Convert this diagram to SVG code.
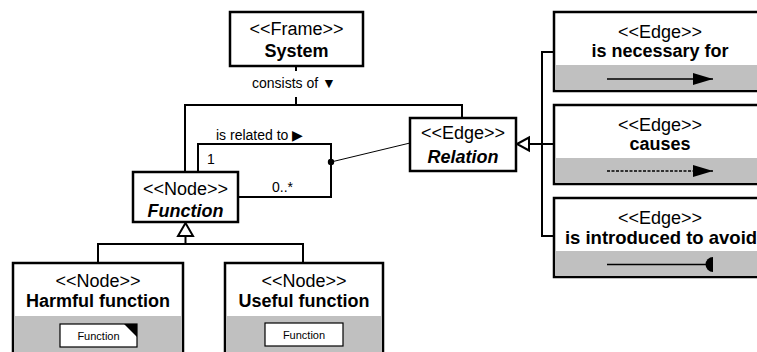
<svg xmlns="http://www.w3.org/2000/svg" width="757" height="352" viewBox="0 0 757 352">
  <style>
    text { font-family: "Liberation Sans", Arial, sans-serif; fill: #000; }
    .st { font-size: 18px; text-anchor: middle; }
    .nm { font-size: 18px; font-weight: bold; text-anchor: middle; }
    .it { font-style: italic; }
    .lbl { font-size: 14px; }
    .small { font-size: 11px; text-anchor: middle; }
    .box { fill: #fff; stroke: #000; stroke-width: 2.5; }
    .band { fill: #c0c0c0; stroke: none; }
    .conn { fill: none; stroke: #000; stroke-width: 2; }
    .thin { fill: none; stroke: #000; stroke-width: 1; }
    .gen { fill: #fff; stroke: #000; stroke-width: 2; }
  </style>
  <defs>
    <marker id="fillArrow" viewBox="0 0 20 12" refX="20" refY="6" markerWidth="20" markerHeight="12" markerUnits="userSpaceOnUse" orient="auto">
      <path d="M0,0 L20,6 L0,12 Z" fill="#000"/>
    </marker>
  </defs>

  <!-- connectors -->
  <g id="connectors">
    <!-- System consists of Function and Relation -->
    <path class="conn" d="M296,66 V71 M296,97 V105 M185,172 V105 H462 V118"/>
    <text class="lbl" x="294" y="88" text-anchor="middle">consists of ▼</text>
    <!-- Function is related to Relation (association loop) -->
    <path class="conn" d="M198,172 V144 H331 V197 H238"/>
    <text class="lbl" x="216" y="140">is related to ▶</text>
    <text class="lbl" x="207" y="164">1</text>
    <text class="lbl" x="272" y="192">0..*</text>
    <circle cx="331" cy="162" r="3.2" fill="#000"/>
    <line class="thin" x1="331" y1="162" x2="410" y2="143"/>
    <!-- Function specialisations -->
    <path class="conn" d="M185.5,236 V244 M98,263 V244 H303 V263"/>
    <path class="gen" d="M185.5,223 L193,236 L178,236 Z"/>
    <!-- Relation specialisations -->
    <path class="conn" d="M554,52 H542 V236 H554 M529,144 H554"/>
    <path class="gen" d="M517,144 L529,137.5 L529,150.5 Z"/>
  </g>

  <g id="system">
    <rect class="box" x="230" y="12" width="133" height="54"/>
    <text class="st" x="296.5" y="35">&lt;&lt;Frame&gt;&gt;</text>
    <text class="nm" x="296.5" y="57">System</text>
  </g>

  <g id="function">
    <rect class="box" x="133" y="172" width="105" height="50"/>
    <text class="st" x="185.5" y="195">&lt;&lt;Node&gt;&gt;</text>
    <text class="nm it" x="185.5" y="217">Function</text>
  </g>

  <g id="relation">
    <rect class="box" x="410" y="118" width="106" height="53"/>
    <text class="st" x="463" y="139">&lt;&lt;Edge&gt;&gt;</text>
    <text class="nm it" x="463" y="163">Relation</text>
  </g>

  <g id="harmful-function">
    <rect class="box" x="13" y="263" width="170" height="100"/>
    <rect class="band" x="14.25" y="316" width="167.5" height="46"/>
    <text class="st" x="98" y="287">&lt;&lt;Node&gt;&gt;</text>
    <text class="nm" x="98" y="307">Harmful function</text>
    <rect x="60" y="324" width="77" height="23" fill="#fff" stroke="#000" stroke-width="1.2"/>
    <path d="M124,324 H137 V337 Z" fill="#000"/>
    <text class="small" x="98.5" y="340">Function</text>
  </g>

  <g id="useful-function">
    <rect class="box" x="225" y="263" width="158" height="100"/>
    <rect class="band" x="226.25" y="316" width="155.5" height="46"/>
    <text class="st" x="304" y="287">&lt;&lt;Node&gt;&gt;</text>
    <text class="nm" x="304" y="307">Useful function</text>
    <rect x="265" y="323" width="78" height="23" fill="#fff" stroke="#000" stroke-width="1.2"/>
    <text class="small" x="304" y="339">Function</text>
  </g>

  <g id="edge-necessary">
    <rect class="box" x="554" y="12" width="212" height="79"/>
    <rect class="band" x="555.25" y="65" width="209.5" height="24.75"/>
    <text class="st" x="660" y="38">&lt;&lt;Edge&gt;&gt;</text>
    <text class="nm" x="660" y="57">is necessary for</text>
    <line x1="607" y1="79" x2="713" y2="79" stroke="#000" stroke-width="1.5" marker-end="url(#fillArrow)"/>
  </g>

  <g id="edge-causes">
    <rect class="box" x="554" y="105" width="212" height="79"/>
    <rect class="band" x="555.25" y="158" width="209.5" height="24.75"/>
    <text class="st" x="660" y="131">&lt;&lt;Edge&gt;&gt;</text>
    <text class="nm" x="660" y="150">causes</text>
    <line x1="607" y1="171" x2="713" y2="171" stroke="#000" stroke-width="1.5" stroke-dasharray="3,1.5" marker-end="url(#fillArrow)"/>
  </g>

  <g id="edge-avoid">
    <rect class="box" x="554" y="198" width="212" height="79"/>
    <rect class="band" x="555.25" y="251" width="209.5" height="24.75"/>
    <text class="st" x="660" y="224">&lt;&lt;Edge&gt;&gt;</text>
    <text class="nm" x="661" y="244" style="font-size:18.5px">is introduced to avoid</text>
    <line x1="607" y1="264.5" x2="707" y2="264.5" stroke="#000" stroke-width="1.5"/>
    <path d="M713,257 A7.5,7.5 0 0 0 713,272 Z" fill="#000"/>
  </g>
</svg>
